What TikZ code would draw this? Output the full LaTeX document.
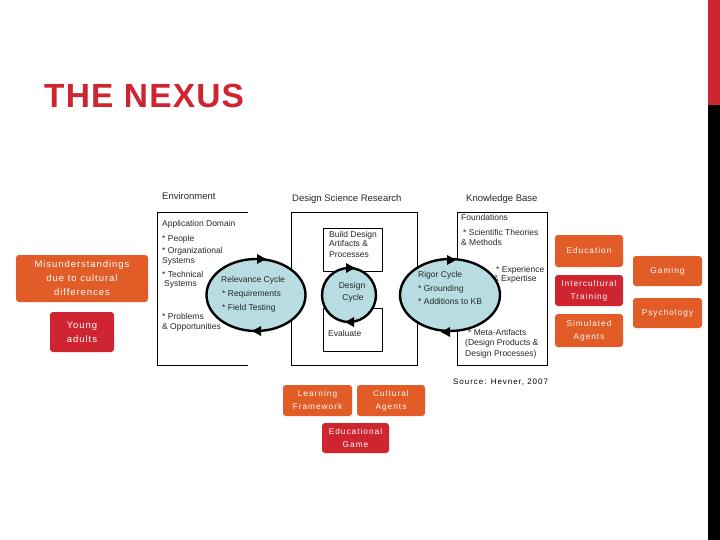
\documentclass[tikz,border=0pt]{standalone}
\usepackage{fontspec}
\setmainfont{Liberation Sans}
\newfontfamily\boxfont[LetterSpace=12]{Liberation Sans}
\newfontfamily\bigboxfont[LetterSpace=10]{Liberation Sans}
\newfontfamily\srcfont[LetterSpace=12]{Liberation Sans}
\newfontfamily\headfont[LetterSpace=3.5]{Liberation Sans}
\usetikzlibrary{shapes.geometric}
\definecolor{nxorange}{RGB}{225,92,38}
\definecolor{nxred}{RGB}{206,37,49}
\definecolor{nxblue}{RGB}{183,221,226}
\definecolor{nxtext}{RGB}{40,40,40}
\begin{document}
\begin{tikzpicture}[x=1pt,y=-1pt,
  txt/.style={anchor=base west, inner sep=0pt, font=\fontsize{8.5}{10}\selectfont, text=nxtext, align=left},
  hdr/.style={anchor=base west, inner sep=0pt, font=\fontsize{9.5}{11}\selectfont, text=nxtext},
  frame/.style={draw=black, line width=0.8pt},
  cyc/.style={ellipse, draw=black, line width=2.4pt, fill=nxblue, inner sep=0pt},
  tip/.style={fill=black},
  tag/.style={rounded corners=3pt, text=white, align=center, inner sep=0pt, font=\boxfont\fontsize{8.3}{13}\selectfont},
  bigtag/.style={tag, font=\bigboxfont\fontsize{9.5}{14}\selectfont},
  orangetag/.style={tag, fill=nxorange},
  redtag/.style={tag, fill=nxred}
]
\useasboundingbox (0,0) rectangle (720,540);
\fill[white] (0,0) rectangle (720,540);
% right bar
\fill[nxred] (708,0) rectangle (720,105);
\fill[black] (708,105) rectangle (720,540);
% title
\node (title) [anchor=base west, inner sep=0pt, text=nxred, font=\headfont\fontsize{33.5}{34}\selectfont\bfseries] at (44,108) {THE NEXUS};

% headers
\node (henv) [hdr] at (162,200) {Environment};
\node (hdsr) [hdr] at (292,202) {Design Science Research};
\node (hkb) [hdr] at (466,202) {Knowledge Base};

% frames
\draw[frame] (248,212) -- (157,212) -- (157,365) -- (248,365);
\draw[frame] (291,212) rectangle (417,365);
\draw[frame] (457,212) rectangle (547,365);
\draw[frame] (323,228) rectangle (382,271);
\draw[frame] (323,308) rectangle (382,351);

% environment text
\node (env1) [txt] at (162,226) {Application Domain};
\node (env2) [txt] at (162,241) {* People};
\node (env3) [txt] at (162,254) {* Organizational};
\node (env4) [txt] at (162,263) {Systems};
\node (env5) [txt] at (162,277) {* Technical};
\node (env6) [txt] at (164,286) {Systems};
\node (env7) [txt] at (162,319) {* Problems};
\node (env8) [txt] at (162,329) {\& Opportunities};

% build / evaluate
\node (bd1) [txt] at (329,237) {Build Design};
\node (bd2) [txt] at (329,247) {Artifacts \&};
\node (bd3) [txt] at (329,257) {Processes};
\node (ev) [txt] at (328,336) {Evaluate};

% knowledge base text
\node (kb1) [txt] at (461,221) {Foundations};
\node (kb2) [txt] at (463,236) {* Scientific Theories};
\node (kb3) [txt] at (461,245) {\& Methods};
\node (kb4) [txt] at (496,272) {* Experience};
\node (kb5) [txt] at (493,281) {\& Expertise};
\node (kb6) [txt] at (468,335) {* Meta-Artifacts};
\node (kb7) [txt] at (465,345) {(Design Products \&};
\node (kb8) [txt] at (465,356) {Design Processes)};

% cycles
\node (rel) [cyc, minimum width=99, minimum height=72] at (256,295) {};
\node (des) [cyc, minimum width=54, minimum height=54] at (349,295) {};
\node (rig) [cyc, minimum width=100, minimum height=72] at (450,295) {};

% cycle arrowheads
\fill[tip] (257,254) -- (266,259) -- (257,264) -- cycle;
\fill[tip] (261,326) -- (252,331) -- (261,336) -- cycle;
\fill[tip] (346,263) -- (355,268) -- (346,273) -- cycle;
\fill[tip] (354,317) -- (345,322) -- (354,327) -- cycle;
\fill[tip] (447,255) -- (456,260) -- (447,265) -- cycle;
\fill[tip] (450,327) -- (441,332) -- (450,337) -- cycle;

% cycle texts
\node (rel1) [txt] at (221,282) {Relevance Cycle};
\node (rel2) [txt] at (222,296) {* Requirements};
\node (rel3) [txt] at (222,310) {* Field Testing};
\node (des1) [txt, anchor=base] at (352,288) {Design};
\node (des2) [txt, anchor=base] at (353,300) {Cycle};
\node (rig1) [txt] at (418,277) {Rigor Cycle};
\node (rig2) [txt] at (418,291) {* Grounding};
\node (rig3) [txt] at (418,304) {* Additions to KB};

% source
\node (src) [anchor=base west, inner sep=0pt, font=\srcfont\fontsize{8}{10}\selectfont] at (453,384) {Source: Hevner, 2007};

% tags
\node (mis) [bigtag, fill=nxorange, minimum width=132, minimum height=47] at (82,278.5) {Misunderstandings\\due to cultural\\differences};
\node (young) [bigtag, fill=nxred, minimum width=64, minimum height=40] at (82,332) {Young\\adults};
\node (edu) [orangetag, minimum width=68, minimum height=32] at (589,251) {Education};
\node (itr) [redtag, minimum width=68, minimum height=31] at (589,290.5) {Intercultural\\Training};
\node (sim) [orangetag, minimum width=68, minimum height=33] at (589,330.5) {Simulated\\Agents};
\node (gam) [orangetag, minimum width=69, minimum height=30] at (667.5,271) {Gaming};
\node (psy) [orangetag, minimum width=69, minimum height=30] at (667.5,313) {Psychology};
\node (lfw) [orangetag, minimum width=69, minimum height=31] at (317.5,400.5) {Learning\\Framework};
\node (cag) [orangetag, minimum width=68, minimum height=31] at (391,400.5) {Cultural\\Agents};
\node (egm) [redtag, minimum width=67, minimum height=30] at (355.5,438) {Educational\\Game};
\end{tikzpicture}
\end{document}
